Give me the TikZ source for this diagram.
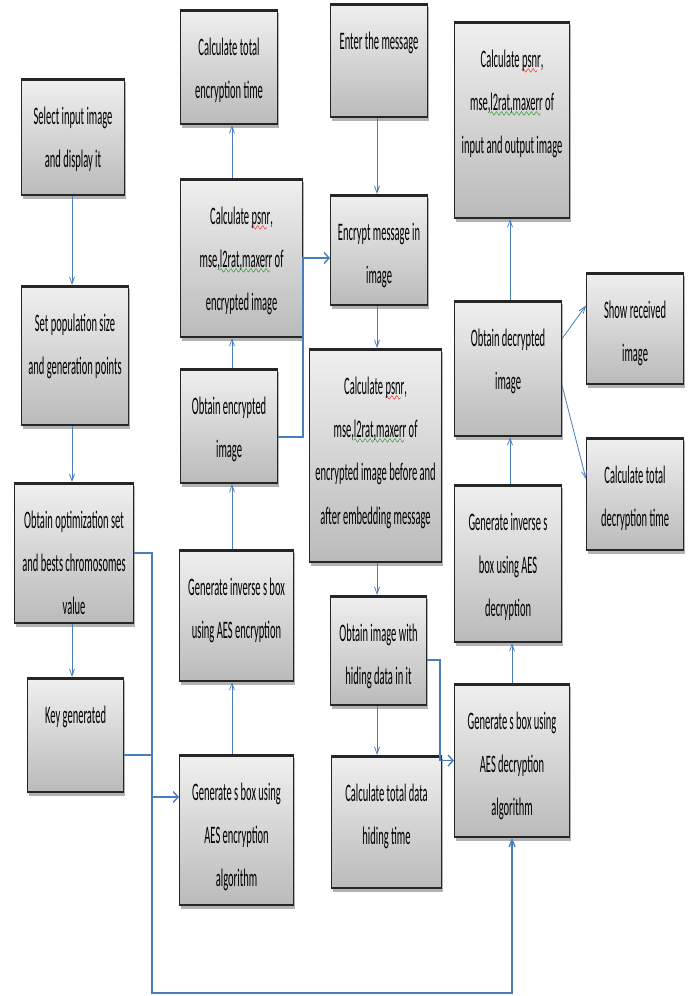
\documentclass[tikz,border=0pt]{standalone}
\usepackage{fontspec}
\setmainfont{Carlito}
\usepackage{graphicx}
\usetikzlibrary{calc}
\usetikzlibrary{arrows.meta,shadows}

\definecolor{linkblue}{HTML}{4A7EBB}
\font\wavefont=lasy6
\newcommand{\vs}[1]{\scalebox{1}[2.4]{\begin{tabular}{@{}c@{}}#1\end{tabular}}}
\newcommand{\wavy}[2]{\setbox0\hbox{#2}\rlap{\lower3pt\hbox to\wd0{\color{#1}\leaders\hbox{\wavefont\char58}\hfill}}\box0\relax}
\newcommand{\redwave}[1]{\wavy{red}{#1}}
\newcommand{\grnwave}[1]{\wavy{green!55!black}{#1}}

\begin{document}
\begin{tikzpicture}[x=1pt,y=-1pt,
   box/.style={draw=black!85,line width=1.1pt,anchor=north west,
     top color=black!6,bottom color=black!27,
     drop shadow={shadow xshift=1.5pt,shadow yshift=-3pt,opacity=0.3,fill=black},
     path picture={\fill[black!85] (path picture bounding box.north west) rectangle ([yshift=-2pt]path picture bounding box.north east);
       \fill[black!85] (path picture bounding box.south west) rectangle ([yshift=2pt]path picture bounding box.south east);}},
   txt/.style={anchor=north,inner sep=0pt,yshift=-16pt,font=\fontsize{10.5}{18}\selectfont},
   arr/.style={draw=linkblue,line width=0.8pt,-{Straight Barb[length=7pt,width=5pt]}},
   bus/.style={draw=linkblue,line width=1.4pt},
   hbarb/.style={-{Straight Barb[length=5pt,width=11pt]}}]
\useasboundingbox (0,0) rectangle (690,996);

\node[box,minimum width=103pt,minimum height=117pt,label={[txt]north:{\vs{Select input image\\and display it}}}] (sel) at (21,78) {};
\node[box,minimum width=107pt,minimum height=140pt,label={[txt]north:{\vs{Set population size\\and generation points}}}] (pop) at (21,285) {};
\node[box,minimum width=119pt,minimum height=141pt,label={[txt]north:{\vs{Obtain optimization set\\and bests chromosomes\\value}}}] (opt) at (14,482) {};
\node[box,minimum width=96pt,minimum height=115pt,label={[txt]north:{\vs{Key generated}}}] (key) at (27,677) {};

\node[box,minimum width=97pt,minimum height=115pt,label={[txt]north:{\vs{Calculate total\\encryption time}}}] (tet) at (180,9) {};
\node[box,minimum width=122pt,minimum height=159pt,label={[txt]north:{\vs{Calculate \redwave{psnr},\\mse,\grnwave{l2rat,maxerr} of\\encrypted image}}}] (psenc) at (180,178) {};
\node[box,minimum width=97pt,minimum height=115pt,label={[txt]north:{\vs{Obtain encrypted\\image}}}] (oenc) at (180,368) {};
\node[box,minimum width=114pt,minimum height=132pt,label={[txt]north:{\vs{Generate inverse s box\\using AES encryption}}}] (invenc) at (179,549) {};
\node[box,minimum width=114pt,minimum height=151pt,label={[txt]north:{\vs{Generate s box using\\AES encryption\\algorithm}}}] (sbenc) at (179,754) {};

\node[box,minimum width=97pt,minimum height=114pt,label={[txt]north:{\vs{Enter the message}}}] (msg) at (330,3) {};
\node[box,minimum width=97pt,minimum height=111pt,label={[txt]north:{\vs{Encrypt message in\\image}}}] (encmsg) at (330,194) {};
\node[box,minimum width=132pt,minimum height=214pt,label={[txt]north:{\vs{Calculate \redwave{psnr},\\mse,\grnwave{l2rat,maxerr} of\\encrypted image before and\\after embedding message}}}] (psemb) at (309,348) {};
\node[box,minimum width=96pt,minimum height=110pt,label={[txt]north:{\vs{Obtain image with\\hiding data in it}}}] (hide) at (330,595) {};
\node[box,minimum width=110pt,minimum height=133pt,label={[txt]north:{\vs{Calculate total data\\hiding time}}}] (thide) at (331,755) {};

\node[box,minimum width=115pt,minimum height=197pt,label={[txt]north:{\vs{Calculate \redwave{psnr},\\mse,\grnwave{l2rat,maxerr} of\\input and output image}}}] (psio) at (454,21) {};
\node[box,minimum width=107pt,minimum height=136pt,label={[txt]north:{\vs{Obtain decrypted\\image}}}] (odec) at (454,300) {};
\node[box,minimum width=107pt,minimum height=158pt,label={[txt]north:{\vs{Generate inverse s\\box using AES\\decryption}}}] (invdec) at (454,484) {};
\node[box,minimum width=115pt,minimum height=154pt,label={[txt]north:{\vs{Generate s box using\\AES decryption\\algorithm}}}] (sbdec) at (454,683) {};

\node[box,minimum width=97pt,minimum height=112pt,label={[txt]north:{\vs{Show received\\image}}}] (show) at (586,272) {};
\node[box,minimum width=97pt,minimum height=113pt,label={[txt]north:{\vs{Calculate total\\decryption time}}}] (tdec) at (586,437) {};

\coordinate (colA) at (72,0);
\coordinate (colB) at (232,0);
\coordinate (colC) at (377,0);
\coordinate (colD) at (510,0);
\coordinate (busL) at (152,993);
\coordinate (keyj) at (152,755);
\coordinate (encj) at (152,797);
\coordinate (msgj) at (303,258);
\coordinate (hidej) at (440,660);

\draw[arr] (colA |- sel.south) -- (colA |- pop.north);
\draw[arr] (colA |- pop.south) -- (colA |- opt.north);
\draw[arr] (colA |- opt.south) -- (colA |- key.north);

\draw[bus,-{Straight Barb[length=7pt,width=6pt]}] (opt.east) -| (busL) -| (sbdec.south);
\draw[bus] (keyj -| key.east) -- (keyj);
\draw[bus,hbarb] (encj) -- (encj -| sbenc.west);

\draw[arr] (colB |- sbenc.north) -- (colB |- invenc.south);
\draw[arr] (colB |- invenc.north) -- (colB |- oenc.south);
\draw[arr] (colB |- oenc.north) -- (colB |- psenc.south);
\draw[arr] (colB |- psenc.north) -- (colB |- tet.south);
\draw[bus,hbarb] ([yshift=-11pt]oenc.east) -| (msgj) -- (msgj -| encmsg.west);

\draw[arr] (colC |- msg.south) -- (colC |- encmsg.north);
\draw[arr] (colC |- encmsg.south) -- (colC |- psemb.north);
\draw[arr] (colC |- psemb.south) -- (colC |- hide.north);
\draw[arr] (colC |- hide.south) -- (colC |- thide.north);
\draw[bus,hbarb] (hidej -| hide.east) -- (hidej) |- (sbdec.west);

\draw[arr] (sbdec.north) -- (sbdec.north |- invdec.south);
\draw[arr] (colD |- invdec.north) -- (colD |- odec.south);
\draw[arr] (colD |- odec.north) -- (colD |- psio.south);
\draw[arr] ([yshift=30pt]odec.east) -- ([yshift=23pt]show.west);
\draw[arr] ([yshift=-17pt]odec.east) -- ([yshift=15pt]tdec.west);
\end{tikzpicture}
\end{document}
